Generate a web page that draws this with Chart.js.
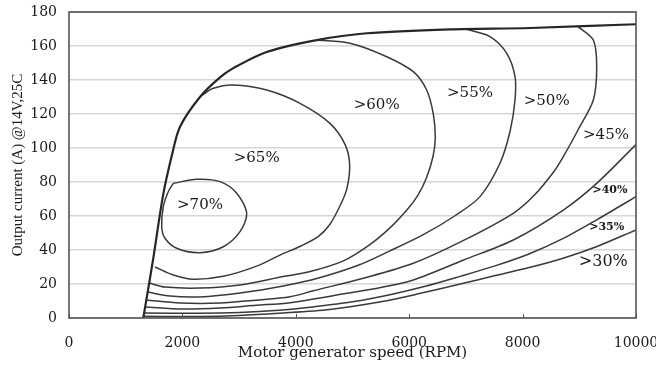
<!DOCTYPE html>
<html>
<head>
<meta charset="utf-8">
<script src="https://cdn.jsdelivr.net/npm/chart.js@4/dist/chart.umd.min.js"></script>
<style>
  html, body { margin: 0; padding: 0; background: #fff; }
  #wrap { width: 656px; height: 365px; }
</style>
</head>
<body>
<div id="wrap"><canvas id="map"></canvas></div>
<script>
// axis ticks
const xTicks = [0, 2000, 4000, 6000, 8000, 10000];
const yTicks = [0, 20, 40, 60, 80, 100, 120, 140, 160, 180];

// max output current envelope
const envelopeX = [1310, 1481, 1658, 1817, 1958, 2310, 2663, 2898, 3487, 4369, 5250, 6720, 8131, 10000];
const envelopeY = [0, 34, 72, 96, 112.5, 130, 141.5, 147, 156.5, 163.5, 167.5, 169.8, 170.6, 172.8];

// efficiency contours
const loop70X = [1840, 2252, 2663, 2958, 3134, 3016, 2721, 2310, 1899, 1693, 1635, 1663, 1751, 1840];
const loop70Y = [79.2, 81.6, 80.2, 73.4, 61.6, 50.8, 41.9, 38.4, 41, 46.9, 53.7, 65.5, 74.3, 79.2];

const line65X = [2310, 2545, 2898, 3487, 4074, 4603, 4870, 4950, 4900, 4780, 4600, 4400, 4100, 3720, 3310, 2720, 2190, 1840, 1517];
const line65Y = [130.2, 135.1, 137.1, 134.1, 126.3, 114.5, 102, 90, 76, 66, 55, 48, 42.5, 37, 30.5, 24.5, 22.8, 25.3, 30];

const line60X = [4369, 4956, 5603, 6072, 6308, 6425, 6460, 6420, 6300, 6150, 5970, 5660, 5300, 4840, 4220, 3800, 3016, 2310, 1693, 1413];
const line60Y = [163.5, 161.6, 153.7, 144.9, 134.1, 120, 106, 95, 82, 72, 64, 53, 43, 33.6, 27, 24.5, 19.4, 17.6, 18.2, 20.6];

const line55X = [7010, 7425, 7720, 7866, 7866, 7780, 7601, 7249, 6800, 6249, 5661, 5100, 4400, 3800, 3016, 2310, 1781, 1390];
const line55Y = [169.8, 165.5, 155.7, 142, 128.2, 110, 91, 71.4, 60, 49, 39.5, 31, 23.5, 19, 14.7, 12.4, 12.9, 15.3];

const line50X = [8978, 9247, 9307, 9247, 8977, 8718, 8560, 8200, 7836, 6950, 6072, 5190, 4309, 3900, 3300, 2663, 1958, 1363];
const line50Y = [171.4, 163.5, 147.8, 128.2, 110.6, 94.9, 86.5, 72, 61.6, 45.5, 32.2, 23.4, 16, 12.5, 10.5, 8.8, 8.8, 10.6];

const line45X = [10000, 9307, 8718, 7836, 6950, 6072, 5500, 4900, 3900, 3300, 2663, 2000, 1343];
const line45Y = [102, 79.2, 63.5, 45.9, 34, 22.4, 18, 14.5, 9, 7.5, 5.9, 5.3, 6.5];

const line40X = [10000, 9300, 8700, 8100, 7500, 6900, 6300, 5700, 5000, 4300, 3700, 3000, 2300, 1330];
const line40Y = [71.4, 57.6, 46.5, 37.5, 30.5, 24.5, 18.8, 14, 9.5, 6.5, 4.5, 3.2, 2.8, 3];

const line35X = [10000, 9300, 8700, 8100, 7500, 6900, 6200, 5500, 4600, 3700, 3000, 2300, 1300];
const line35Y = [51.8, 41.9, 35, 29.5, 24.8, 20, 14.5, 9.5, 5, 2.8, 1.5, 0.9, 1];

// region labels, anchored in data units
const labelText = ['>70%', '>65%', '>60%', '>55%', '>50%', '>45%', '>40%', '>35%', '>30%'];
const labelX = [2310, 3310, 5427, 7072, 8425, 9471, 9541, 9483, 9423];
const labelY = [66.5, 94, 125.3, 132.2, 127.6, 107.6, 75.3, 53.7, 33.1];

const toPoints = (xs, ys) => xs.map((x, i) => ({x: x, y: ys[i]}));

const curve = (xs, ys, width, color) => ({
    data: toPoints(xs, ys),
    showLine: true,
    borderColor: color,
    borderWidth: width,
    pointRadius: 0,
    tension: 0.3,
    fill: false
});

const lineColor = '#3a3a3a';
const frameColor = '#555555';

// frame round the plot and the small inward ticks on the x axis
const framePlugin = {
    id: 'frame',
    afterDatasetsDraw(chart) {
        const {ctx, chartArea, scales} = chart;
        ctx.save();
        ctx.strokeStyle = frameColor;
        ctx.lineWidth = 1.6;
        ctx.strokeRect(chartArea.left, chartArea.top, chartArea.right - chartArea.left, chartArea.bottom - chartArea.top);
        ctx.lineWidth = 1;
        xTicks.forEach(v => {
            const px = Math.round(scales.x.getPixelForValue(v)) + 0.5;
            ctx.beginPath();
            ctx.moveTo(px, chartArea.bottom);
            ctx.lineTo(px, chartArea.bottom - 4);
            ctx.stroke();
        });
        ctx.restore();
    }
};

const labelPlugin = {
    id: 'regionLabels',
    afterDatasetsDraw(chart) {
        const {ctx, scales} = chart;
        ctx.save();
        ctx.fillStyle = '#1a1a1a';
        ctx.textAlign = 'center';
        ctx.textBaseline = 'middle';
        labelText.forEach((t, i) => {
            if (t === '>40%' || t === '>35%') {
                ctx.font = 'bold 11px "DejaVu Serif"';
            } else if (t === '>30%') {
                ctx.font = '16px "DejaVu Serif"';
            } else {
                ctx.font = '15px "DejaVu Serif"';
            }
            ctx.fillText(t, scales.x.getPixelForValue(labelX[i]), scales.y.getPixelForValue(labelY[i]));
        });
        ctx.restore();
    }
};

const chartConfig = {
    type: 'scatter',
    data: {
        datasets: [
            curve(envelopeX, envelopeY, 2.2, '#262626'),
            curve(loop70X, loop70Y, 1.5, lineColor),
            curve(line65X, line65Y, 1.5, lineColor),
            curve(line60X, line60Y, 1.5, lineColor),
            curve(line55X, line55Y, 1.5, lineColor),
            curve(line50X, line50Y, 1.5, lineColor),
            curve(line45X, line45Y, 1.5, lineColor),
            curve(line40X, line40Y, 1.5, lineColor),
            curve(line35X, line35Y, 1.5, lineColor)
        ]
    },
    options: {
        responsive: true,
        maintainAspectRatio: false,
        animation: false,
        layout: {padding: {top: 12, right: 20, left: 0, bottom: 0}},
        plugins: {
            legend: {display: false},
            tooltip: {enabled: false}
        },
        scales: {
            x: {
                type: 'linear',
                min: 0,
                max: 10000,
                afterBuildTicks: s => { s.ticks = xTicks.map(v => ({value: v})); },
                afterFit: s => {
                    s.height = 47;
                    s.paddingLeft = 0;
                    s.paddingRight = 0;
                },
                grid: {display: false},
                border: {display: false},
                ticks: {
                    padding: 9,
                    maxRotation: 0,
                    color: '#1a1a1a',
                    font: {family: 'DejaVu Serif', size: 14},
                    callback: v => String(v)
                },
                title: {
                    display: true,
                    text: 'Motor generator speed (RPM)',
                    color: '#1a1a1a',
                    font: {family: 'DejaVu Serif', size: 15},
                    padding: {top: 0, bottom: 3}
                }
            },
            y: {
                min: 0,
                max: 180,
                afterBuildTicks: s => { s.ticks = yTicks.map(v => ({value: v})); },
                afterFit: s => {
                    s.width = 69;
                    s.paddingTop = 0;
                    s.paddingBottom = 0;
                },
                grid: {color: '#d6d6d6', lineWidth: 1.5, drawTicks: false},
                border: {display: false},
                ticks: {
                    padding: 12,
                    color: '#1a1a1a',
                    font: {family: 'DejaVu Serif', size: 14},
                    callback: v => String(v)
                },
                title: {
                    display: true,
                    text: 'Output current (A) @14V,25C',
                    color: '#1a1a1a',
                    font: {family: 'Liberation Serif', size: 15},
                    padding: {top: 9, bottom: 0}
                }
            }
        }
    },
    plugins: [framePlugin, labelPlugin]
};

new Chart(document.getElementById('map'), chartConfig);
</script>
</body>
</html>
